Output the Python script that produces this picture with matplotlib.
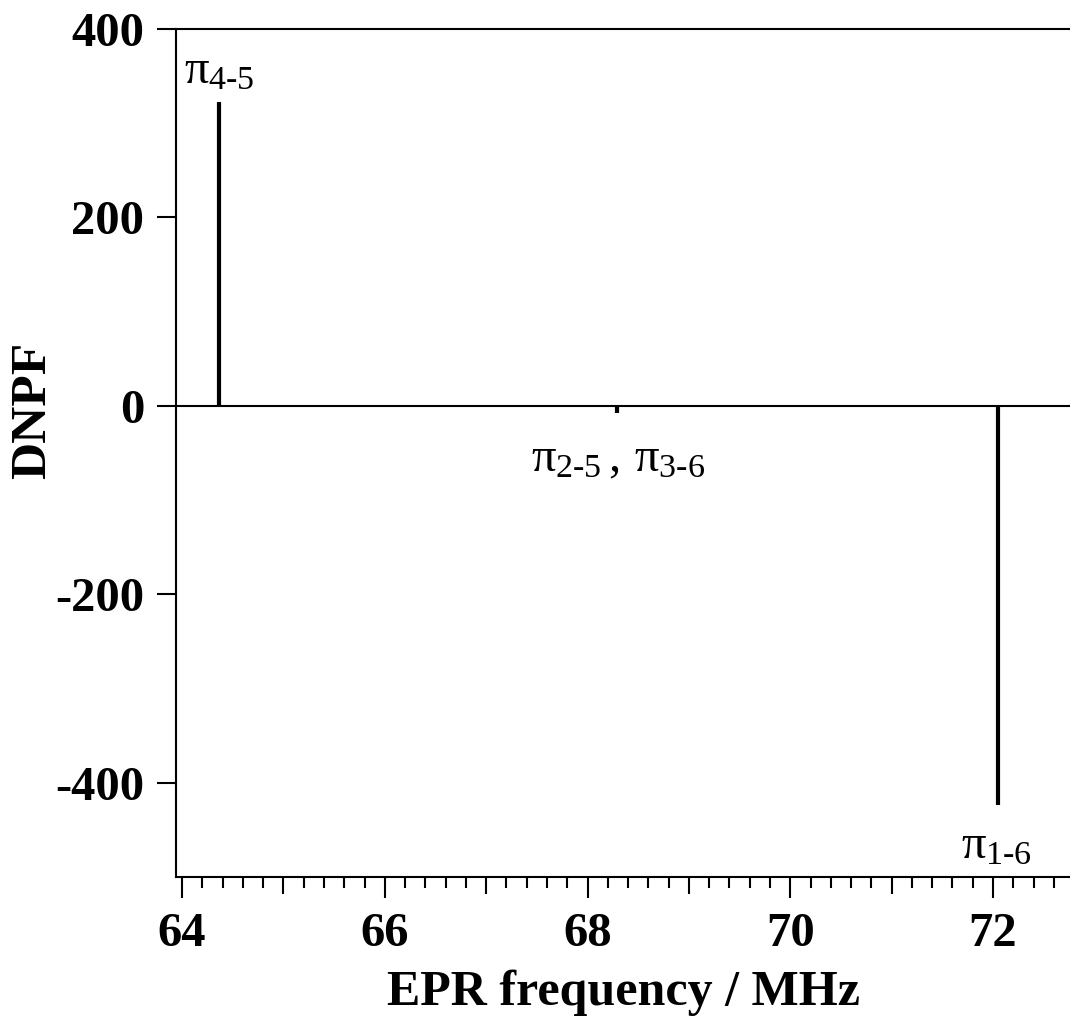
import matplotlib
matplotlib.use("Agg")
import matplotlib.pyplot as plt
from matplotlib.ticker import MultipleLocator

# peak positions (MHz) and DNPF values
freqs = [64.36, 68.29, 72.05]
dnpf = [322, -7, -424]
peak_labels = [r"$\pi_{4\text{-}5}$", r"$\pi_{2\text{-}5}\,,\,\pi_{3\text{-}6}$", r"$\pi_{1\text{-}6}$"]
label_pos = [(64.37, 355), (68.3, -57), (72.03, -468)]

xticks = [64, 66, 68, 70, 72]
yticks = [-400, -200, 0, 200, 400]

plt.rcParams["font.family"] = "Liberation Serif"
plt.rcParams["axes.unicode_minus"] = False
plt.rcParams["mathtext.fontset"] = "custom"
plt.rcParams["mathtext.rm"] = "Liberation Serif"
plt.rcParams["mathtext.it"] = "Liberation Serif"
plt.rcParams["mathtext.bf"] = "Liberation Serif:bold"

fig = plt.figure(figsize=(10.7, 10.21), dpi=100)
ax = fig.add_axes([0.1645, 0.141, 1 - 0.1645, 0.9716 - 0.141])

ax.axhline(0, color="black", linewidth=1.5)
ax.vlines(freqs, 0, dnpf, colors="black", linewidth=3)

for txt, (x, y) in zip(peak_labels, label_pos):
    ax.text(x, y, txt, fontsize=35, ha="center", va="center")

ax.set_xlim(63.94, 72.76)
ax.set_ylim(-500, 400)

ax.set_xticks(xticks)
ax.set_yticks(yticks)
ax.xaxis.set_minor_locator(MultipleLocator(0.2))

ax.spines["right"].set_visible(False)
for s in ["left", "top", "bottom"]:
    ax.spines[s].set_linewidth(1.5)

ax.tick_params(axis="x", which="major", direction="out", length=15, width=1.5, pad=10, labelsize=35)
ax.tick_params(axis="x", which="minor", direction="out", length=8, width=1.5)
ax.tick_params(axis="y", which="major", direction="out", length=14, width=1.5, pad=9, labelsize=35)
for lab in ax.get_xticklabels() + ax.get_yticklabels():
    lab.set_fontweight("bold")

# odd integers get a medium-length tick
for loc, tick in zip(ax.xaxis.get_minorticklocs(), ax.xaxis.get_minor_ticks()):
    if abs(loc - round(loc)) < 1e-6:
        tick.tick1line.set_markersize(12)

ax.set_xlabel("EPR frequency / MHz", fontsize=36, fontweight="bold", labelpad=10)
fig.text(33 / 1070, 1 - 410 / 1021, "DNPF", fontsize=37, fontweight="bold",
         rotation=90, ha="center", va="center")

fig.savefig("out.png", dpi=100)
